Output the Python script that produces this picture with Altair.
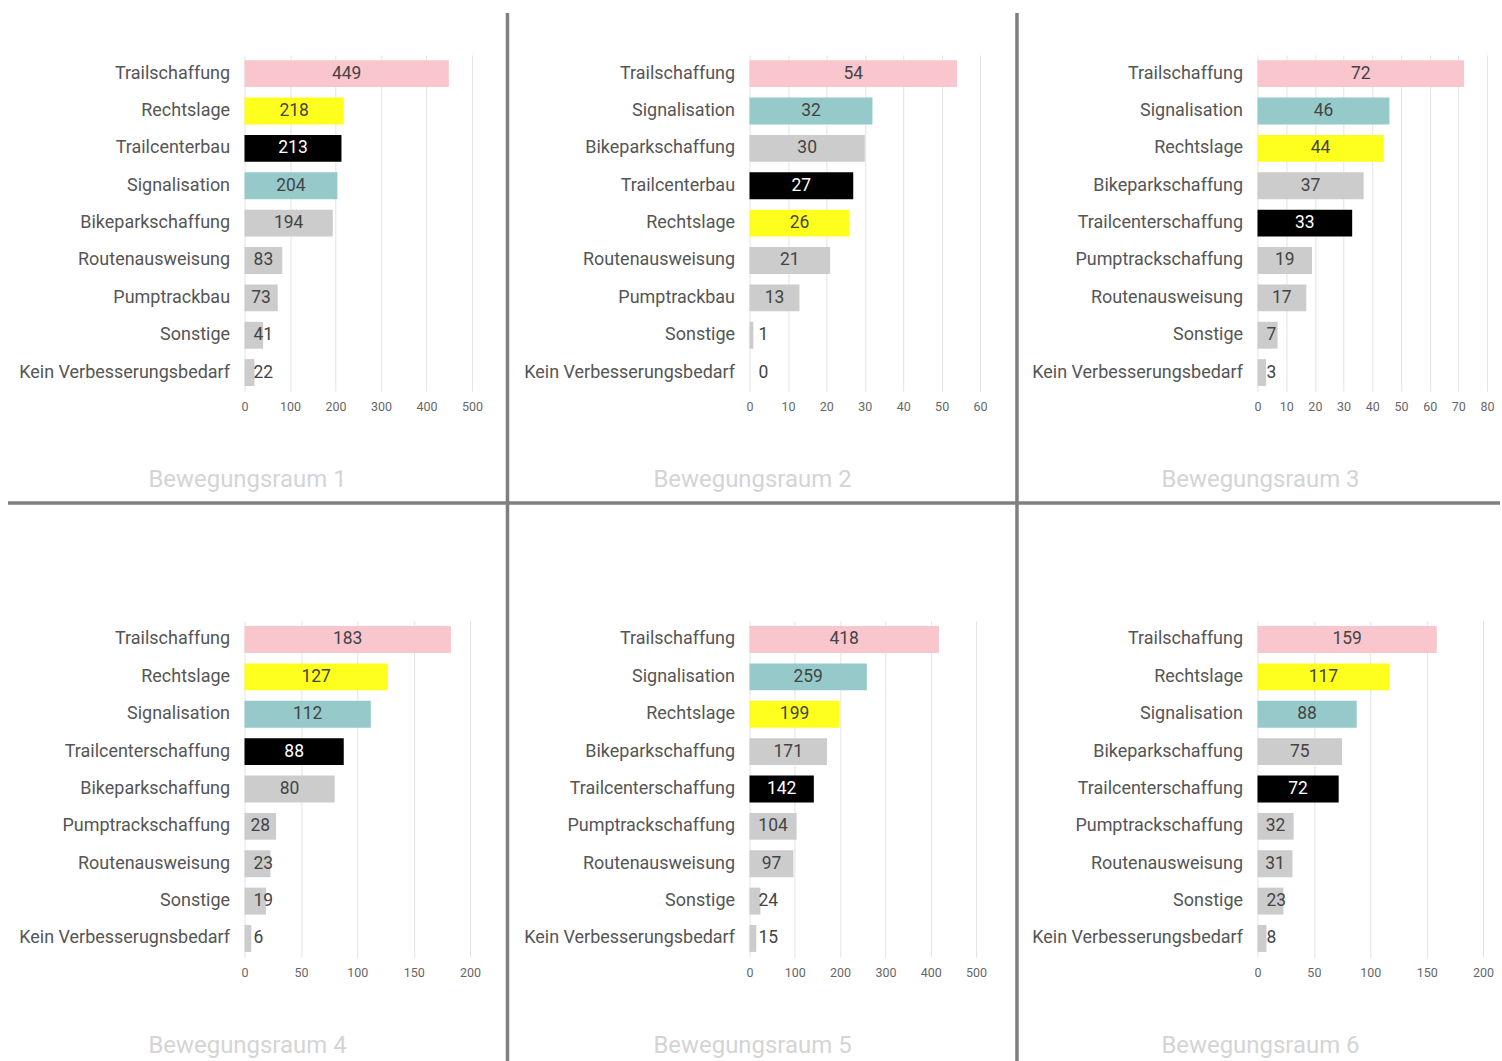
import altair as alt
import pandas as pd

# --- data: one list of categories and one list of counts per area ---
cats_1 = ["Trailschaffung", "Rechtslage", "Trailcenterbau", "Signalisation", "Bikeparkschaffung",
          "Routenausweisung", "Pumptrackbau", "Sonstige", "Kein Verbesserungsbedarf"]
vals_1 = [449, 218, 213, 204, 194, 83, 73, 41, 22]

cats_2 = ["Trailschaffung", "Signalisation", "Bikeparkschaffung", "Trailcenterbau", "Rechtslage",
          "Routenausweisung", "Pumptrackbau", "Sonstige", "Kein Verbesserungsbedarf"]
vals_2 = [54, 32, 30, 27, 26, 21, 13, 1, 0]

cats_3 = ["Trailschaffung", "Signalisation", "Rechtslage", "Bikeparkschaffung", "Trailcenterschaffung",
          "Pumptrackschaffung", "Routenausweisung", "Sonstige", "Kein Verbesserungsbedarf"]
vals_3 = [72, 46, 44, 37, 33, 19, 17, 7, 3]

cats_4 = ["Trailschaffung", "Rechtslage", "Signalisation", "Trailcenterschaffung", "Bikeparkschaffung",
          "Pumptrackschaffung", "Routenausweisung", "Sonstige", "Kein Verbesserugnsbedarf"]
vals_4 = [183, 127, 112, 88, 80, 28, 23, 19, 6]

cats_5 = ["Trailschaffung", "Signalisation", "Rechtslage", "Bikeparkschaffung", "Trailcenterschaffung",
          "Pumptrackschaffung", "Routenausweisung", "Sonstige", "Kein Verbesserungsbedarf"]
vals_5 = [418, 259, 199, 171, 142, 104, 97, 24, 15]

cats_6 = ["Trailschaffung", "Rechtslage", "Signalisation", "Bikeparkschaffung", "Trailcenterschaffung",
          "Pumptrackschaffung", "Routenausweisung", "Sonstige", "Kein Verbesserungsbedarf"]
vals_6 = [159, 117, 88, 75, 72, 32, 31, 23, 8]

titles = ["Bewegungsraum 1", "Bewegungsraum 2", "Bewegungsraum 3",
          "Bewegungsraum 4", "Bewegungsraum 5", "Bewegungsraum 6"]

# axis maximum and tick step per area
axis_max = [500, 60, 80, 200, 500, 200]
axis_step = [100, 10, 10, 50, 100, 50]

# --- style ---
FONT = "Roboto"
HEIGHT = 337
WIDTHS = [228, 231, 230, 226, 227, 226]
COLOR_MAP = {
    "Trailschaffung": "#f9c6cd",
    "Rechtslage": "#ffff1e",
    "Signalisation": "#96caca",
    "Trailcenterbau": "#000000",
    "Trailcenterschaffung": "#000000",
}
GREY = "#cccccc"


def panel(cats, vals, title, xmax, step, width, dividers=False):
    df = pd.DataFrame({"cat": cats, "v": vals})
    df["fill"] = [COLOR_MAP.get(c, GREY) for c in cats]
    df["txt"] = ["#ffffff" if COLOR_MAP.get(c) == "#000000" else "#444444" for c in cats]
    # labels of narrow bars sit just after the bar start instead of the centre
    df["inside"] = [v / xmax * width >= 30 for v in vals]

    y_axis = alt.Axis(labelFontSize=18, labelColor="#555555", labelFont=FONT,
                      labelPadding=15, ticks=False, domain=False, labelLimit=400)
    y_scale = alt.Scale(paddingInner=0.28, paddingOuter=0.14)
    x_scale = alt.Scale(domain=[0, xmax], nice=False)
    x_axis = alt.Axis(values=list(range(0, xmax + 1, step)), grid=True, gridColor="#e3e3e3",
                      ticks=False, domain=False, labelFontSize=12.5, labelColor="#666666",
                      labelFont=FONT, labelPadding=9, title=None,
                      labelOverlap=False, labelFlush=False)

    def y_enc():
        return alt.Y("cat:N", sort=list(cats), title=None, scale=y_scale, axis=y_axis)

    def x_enc(field):
        return alt.X(field, scale=x_scale, axis=x_axis, title=None)

    base = alt.Chart(df)
    bars = base.mark_bar().encode(
        x=x_enc("v:Q"),
        y=y_enc(),
        color=alt.Color("fill:N", scale=None),
    )
    mid = base.transform_filter("datum.inside").transform_calculate(
        mid="datum.v / 2"
    ).mark_text(fontSize=17.5, font=FONT, align="center", baseline="middle").encode(
        x=x_enc("mid:Q"),
        y=y_enc(),
        text="v:Q",
        color=alt.Color("txt:N", scale=None),
    )
    low = base.transform_filter("!datum.inside").transform_calculate(
        zero="0"
    ).mark_text(fontSize=17.5, font=FONT, align="left", baseline="middle", dx=9).encode(
        x=x_enc("zero:Q"),
        y=y_enc(),
        text="v:Q",
        color=alt.Color("txt:N", scale=None),
    )

    cap = alt.Chart(pd.DataFrame({"t": [title]})).mark_text(
        fontSize=24, font=FONT, color="#d4d4d4", align="center", baseline="middle"
    ).encode(text="t:N", x=alt.value(3), y=alt.value(HEIGHT + 89))

    layers = [bars, mid, low, cap]
    if dividers:
        rules = pd.DataFrame({"k": [0]})
        style = dict(color="#7f7f7f", strokeWidth=3.5)
        layers += [
            alt.Chart(rules).mark_rule(**style).encode(
                x=alt.value(263.5), y=alt.value(-42), y2=alt.value(1008)),
            alt.Chart(rules).mark_rule(**style).encode(
                x=alt.value(774), y=alt.value(-42), y2=alt.value(1008)),
            alt.Chart(rules).mark_rule(**style).encode(
                x=alt.value(-237), x2=alt.value(1258), y=alt.value(449)),
        ]
    return alt.layer(*layers).properties(width=width, height=HEIGHT)


cats = [cats_1, cats_2, cats_3, cats_4, cats_5, cats_6]
vals = [vals_1, vals_2, vals_3, vals_4, vals_5, vals_6]
panels = [panel(cats[i], vals[i], titles[i], axis_max[i], axis_step[i], WIDTHS[i], dividers=(i == 0))
          for i in range(6)]

chart = alt.concat(*panels, columns=3, spacing=alt.RowColnumber(row=230, column=278),
                   bounds="flush").properties(
    padding={"left": 6, "top": 10, "right": 0, "bottom": 0},
    background="#ffffff",
).configure_view(stroke=None)

chart.save("out.html", embed_options={"renderer": "svg", "actions": False})
